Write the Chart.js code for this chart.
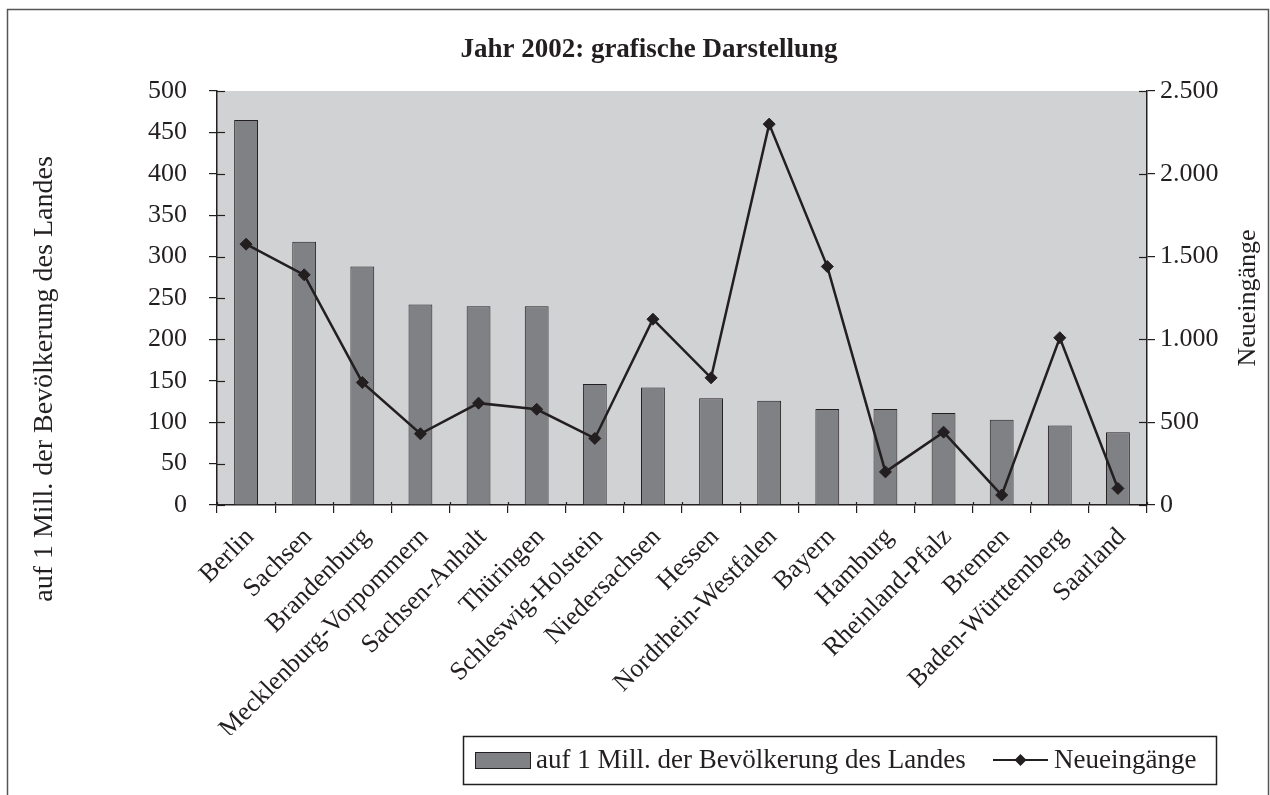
<!DOCTYPE html>
<html lang="de">
<head>
<meta charset="utf-8">
<title>Jahr 2002: grafische Darstellung</title>
<script src="https://cdn.jsdelivr.net/npm/chart.js@4.4.1/dist/chart.umd.min.js"></script>
<style>
  html, body { margin: 0; padding: 0; background: #fff; }
  #wrap { width: 1270px; height: 795px; }
</style>
</head>
<body>
<div id="wrap"><canvas id="myChart" width="1270" height="795"></canvas></div>
<script>
// Daten
const laender = ['Berlin', 'Sachsen', 'Brandenburg', 'Mecklenburg-Vorpommern', 'Sachsen-Anhalt',
  'Thüringen', 'Schleswig-Holstein', 'Niedersachsen', 'Hessen', 'Nordrhein-Westfalen', 'Bayern',
  'Hamburg', 'Rheinland-Pfalz', 'Bremen', 'Baden-Württemberg', 'Saarland'];
const proMillion = [465, 318, 288, 242, 240, 240, 146, 142, 129, 126, 116, 116, 111, 103, 96, 88];
const neueingaenge = [1575, 1390, 740, 430, 615, 578, 402, 1122, 768, 2300, 1440, 200, 440, 60, 1010, 100];
const rechteTicks = ['0', '500', '1.000', '1.500', '2.000', '2.500'];

const schrift = "'Liberation Serif', 'Times New Roman', serif";
const dunkel = '#231f20';

(function () {
    // Rahmen, Hintergrund, Achsentitel und Legende
    const extras = {
        id: 'extras',
        beforeDraw(chart) {
            const { ctx, chartArea: a } = chart;
            ctx.save();
            ctx.fillStyle = '#fff';
            ctx.fillRect(0, 0, chart.width, chart.height);
            ctx.strokeStyle = '#555';
            ctx.lineWidth = 1.5;
            ctx.strokeRect(7.5, 9.5, 1261, 820);
            ctx.fillStyle = '#d1d2d4';
            ctx.fillRect(a.left, a.top, a.right - a.left, a.bottom - a.top);
            ctx.restore();
        },
        afterDraw(chart) {
            const { ctx, chartArea: a, scales } = chart;
            ctx.save();
            ctx.strokeStyle = dunkel;
            ctx.lineWidth = 1.2;
            // innere Hälfte der Teilstriche
            scales.y.ticks.forEach((t, i) => {
                const py = Math.round(scales.y.getPixelForTick(i)) + 0.5;
                ctx.beginPath(); ctx.moveTo(a.left, py); ctx.lineTo(a.left + 8, py); ctx.stroke();
            });
            scales.y2.ticks.forEach((t, i) => {
                const py = Math.round(scales.y2.getPixelForTick(i)) + 0.5;
                ctx.beginPath(); ctx.moveTo(a.right - 8, py); ctx.lineTo(a.right, py); ctx.stroke();
            });
            for (let i = 0; i <= laender.length; i++) {
                const px = Math.round(scales.x.getPixelForValue(i - 0.5)) + 0.5;
                ctx.beginPath(); ctx.moveTo(px, a.bottom - 3); ctx.lineTo(px, a.bottom); ctx.stroke();
            }

            // Achsentitel
            ctx.fillStyle = dunkel;
            ctx.textAlign = 'center';
            ctx.textBaseline = 'middle';
            ctx.save();
            ctx.translate(45, 379);
            ctx.rotate(-Math.PI / 2);
            ctx.font = '28px ' + schrift;
            ctx.fillText(chart.data.datasets[1].label, 0, 0);
            ctx.restore();
            ctx.save();
            ctx.translate(1248, (a.top + a.bottom) / 2);
            ctx.rotate(-Math.PI / 2);
            ctx.font = '26px ' + schrift;
            ctx.fillText(chart.data.datasets[0].label, 0, 0);
            ctx.restore();

            // Legende
            const ly = 760;
            ctx.lineWidth = 1.5;
            ctx.strokeStyle = dunkel;
            ctx.strokeRect(463.5, 736.5, 753, 48);
            ctx.fillStyle = '#808184';
            ctx.fillRect(475, ly - 8, 55, 16);
            ctx.lineWidth = 1;
            ctx.strokeRect(475.5, ly - 7.5, 55, 16);
            ctx.fillStyle = dunkel;
            ctx.font = '27px ' + schrift;
            ctx.textAlign = 'left';
            ctx.fillText(chart.data.datasets[1].label, 536, ly + 1);
            ctx.lineWidth = 2;
            ctx.beginPath(); ctx.moveTo(993, ly); ctx.lineTo(1048, ly); ctx.stroke();
            ctx.beginPath();
            ctx.moveTo(1020.5, ly - 6); ctx.lineTo(1026.5, ly); ctx.lineTo(1020.5, ly + 6); ctx.lineTo(1014.5, ly);
            ctx.closePath(); ctx.fill();
            ctx.fillText(chart.data.datasets[0].label, 1054, ly + 1);
            ctx.restore();
        }
    };

    const tickFont = { family: schrift, size: 26 };
    const ctx = document.getElementById('myChart').getContext('2d');
    new Chart(ctx, {
        type: 'bar',
        data: {
            labels: laender,
            datasets: [{
                type: 'line',
                label: 'Neueingänge',
                data: neueingaenge,
                yAxisID: 'y2',
                order: 0,
                borderColor: dunkel,
                borderWidth: 2.5,
                tension: 0,
                pointStyle: 'rectRot',
                pointRadius: 6,
                pointBackgroundColor: dunkel,
                pointBorderColor: dunkel,
                pointBorderWidth: 1
            }, {
                label: 'auf 1 Mill. der Bevölkerung des Landes',
                data: proMillion,
                yAxisID: 'y',
                order: 1,
                backgroundColor: '#808184',
                borderColor: dunkel,
                borderWidth: 1,
                barPercentage: 0.41,
                categoryPercentage: 1
            }]
        },
        options: {
            responsive: false,
            animation: false,
            devicePixelRatio: 1,
            layout: { padding: { left: 28, right: 0, top: 0, bottom: 60 } },
            plugins: {
                legend: { display: false },
                tooltip: { enabled: false },
                title: {
                    display: true,
                    text: 'Jahr 2002: grafische Darstellung',
                    color: dunkel,
                    font: { family: schrift, size: 27, weight: 'bold' },
                    padding: { top: 33.8, bottom: 24.8 }
                }
            },
            scales: {
                x: {
                    offset: true,
                    grid: { offset: true, drawOnChartArea: false, tickLength: 8, color: dunkel, lineWidth: 1.2 },
                    border: { color: dunkel, width: 1.5 },
                    ticks: { font: tickFont, color: dunkel, minRotation: 45, maxRotation: 45, autoSkip: false,
                        padding: 9, labelOffset: 4 },
                    afterFit(s) { s.height = 230; }
                },
                y: {
                    position: 'left',
                    min: 0,
                    max: 500,
                    ticks: { stepSize: 50, font: tickFont, color: dunkel, padding: 22 },
                    grid: { drawOnChartArea: false, tickLength: 8, color: dunkel, lineWidth: 1.2 },
                    border: { color: dunkel, width: 1.5 },
                    afterFit(s) { s.width = 189; }
                },
                y2: {
                    position: 'right',
                    min: 0,
                    max: 2500,
                    ticks: { stepSize: 500, font: tickFont, color: dunkel, padding: 5,
                        callback: (v, i) => rechteTicks[i] },
                    grid: { drawOnChartArea: false, tickLength: 8, color: dunkel, lineWidth: 1.2 },
                    border: { color: dunkel, width: 1.5 },
                    afterFit(s) { s.width = 123; }
                }
            }
        },
        plugins: [extras]
    });
})();
</script>
</body>
</html>
